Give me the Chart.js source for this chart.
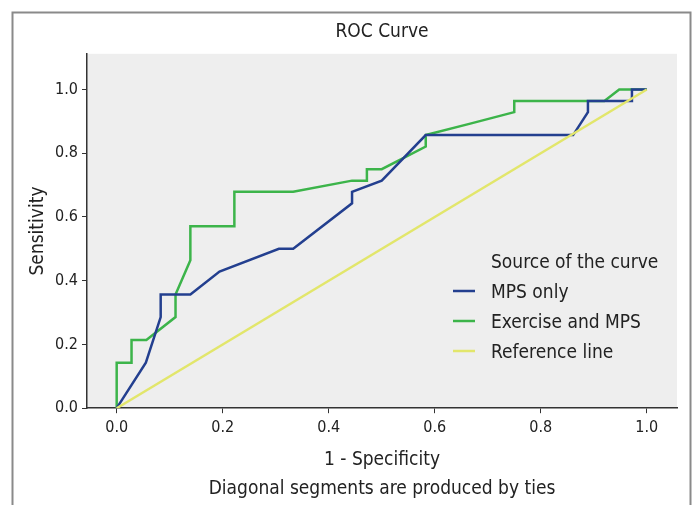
<!DOCTYPE html>
<html lang="en">
<head>
  <meta charset="UTF-8">
  <title>ROC Curve</title>
  <style>
    * {
      margin: 0;
      padding: 0;
      box-sizing: border-box;
    }

    body {
      width: 696px;
      height: 505px;
      background: #ffffff;
      overflow: hidden;
    }
  </style>
</head>
<body>
  <canvas id="roc" width="696" height="505"></canvas>

  <script src="https://cdn.jsdelivr.net/npm/chart.js"></script>
  <script>
    // values (1 - specificity, sensitivity)
    const mpsX = [0, 0.055, 0.083, 0.083, 0.139, 0.194, 0.306, 0.333, 0.444, 0.444, 0.5, 0.583, 0.861, 0.889, 0.889, 0.972, 0.972, 1];
    const mpsY = [0, 0.143, 0.286, 0.357, 0.357, 0.429, 0.5, 0.5, 0.643, 0.679, 0.714, 0.857, 0.857, 0.929, 0.964, 0.964, 1, 1];

    const exX = [0, 0, 0.028, 0.028, 0.056, 0.111, 0.111, 0.139, 0.139, 0.222, 0.222, 0.333, 0.444, 0.472, 0.472, 0.5, 0.583, 0.583, 0.667, 0.75, 0.75, 0.92, 0.948, 1];
    const exY = [0, 0.143, 0.143, 0.214, 0.214, 0.286, 0.357, 0.464, 0.571, 0.571, 0.679, 0.679, 0.714, 0.714, 0.75, 0.75, 0.821, 0.857, 0.893, 0.929, 0.964, 0.964, 1, 1];

    const refX = [0, 1];
    const refY = [0, 1];

    const seriesNames = ['MPS only', 'Exercise and MPS', 'Reference line'];
    const xTicks = [0, 0.2, 0.4, 0.6, 0.8, 1.0];
    const yTicks = [0, 0.2, 0.4, 0.6, 0.8, 1.0];

    const FONT = "'Liberation Sans Narrow', 'DejaVu Sans Condensed', 'Liberation Sans', sans-serif";
    const INK = '#222222';

    const toPoints = (xs, ys) => xs.map((x, i) => ({ x: x, y: ys[i] }));

    // grey plot background + outer frame
    const frame = {
      id: 'frame',
      beforeDraw(chart) {
        const { ctx, chartArea } = chart;
        ctx.save();
        ctx.fillStyle = '#eeeeee';
        ctx.fillRect(chartArea.left, chartArea.top, chartArea.right - chartArea.left, chartArea.bottom - chartArea.top);
        ctx.strokeStyle = '#8a8a8a';
        ctx.lineWidth = 2;
        ctx.strokeRect(12.5, 12.5, 678, 520);
        ctx.restore();
      }
    };

    // legend that sits inside the plot, lower right
    const innerLegend = {
      id: 'innerLegend',
      afterDatasetsDraw(chart) {
        const { ctx } = chart;
        const textX = 491, lineX = 453;
        let y = 263;
        ctx.save();
        ctx.font = '19px ' + FONT;
        ctx.fillStyle = INK;
        ctx.textBaseline = 'middle';
        ctx.fillText('Source of the curve', textX, y);
        chart.data.datasets.forEach(ds => {
          y += 30;
          ctx.strokeStyle = ds.borderColor;
          ctx.lineWidth = 2.5;
          ctx.beginPath();
          ctx.moveTo(lineX, y - 2);
          ctx.lineTo(lineX + 22, y - 2);
          ctx.stroke();
          ctx.fillText(ds.label, textX, y);
        });
        ctx.restore();
      }
    };

    const ctx = document.getElementById('roc');

    const chart = new Chart(ctx, {
      type: 'scatter',
      data: {
        datasets: [{
          label: seriesNames[0],
          data: toPoints(mpsX, mpsY),
          borderColor: '#233f8f',
          order: 1
        }, {
          label: seriesNames[1],
          data: toPoints(exX, exY),
          borderColor: '#3cb44a',
          order: 2
        }, {
          label: seriesNames[2],
          data: toPoints(refX, refY),
          borderColor: '#e2e66b',
          order: 0
        }]
      },
      options: {
        responsive: false,
        animation: false,
        showLine: true,
        elements: {
          point: { radius: 0, hoverRadius: 0 },
          line: { borderWidth: 2.5, tension: 0, fill: false }
        },
        layout: {
          padding: { left: 0, right: 19, top: 0, bottom: 0 }
        },
        scales: {
          x: {
            type: 'linear',
            min: -0.056,
            max: 1.057,
            afterBuildTicks: scale => { scale.ticks = xTicks.map(v => ({ value: v })); },
            ticks: {
              color: INK,
              padding: 5,
              font: { family: FONT, size: 16 },
              callback: v => v.toFixed(1)
            },
            grid: { drawOnChartArea: false, drawTicks: true, tickLength: 5, color: '#333333' },
            border: { display: true, color: '#333333', width: 1.5 },
            title: {
              display: true,
              text: '1 - Specificity',
              color: INK,
              font: { family: FONT, size: 19 },
              padding: { top: 6, bottom: 6 }
            }
          },
          y: {
            type: 'linear',
            min: 0,
            max: 1.112,
            afterBuildTicks: scale => { scale.ticks = yTicks.map(v => ({ value: v })); },
            afterFit: scale => { scale.width = 87; },
            ticks: {
              color: INK,
              padding: 4,
              font: { family: FONT, size: 16 },
              callback: v => v.toFixed(1)
            },
            grid: { drawOnChartArea: false, drawTicks: true, tickLength: 5, color: '#333333' },
            border: { display: true, color: '#333333', width: 1.5 },
            title: {
              display: true,
              text: 'Sensitivity',
              color: INK,
              font: { family: FONT, size: 19 },
              padding: { top: 27, bottom: 0 }
            }
          }
        },
        plugins: {
          legend: { display: false },
          tooltip: { enabled: false },
          title: {
            display: true,
            text: 'ROC Curve',
            fullSize: false,
            color: INK,
            font: { family: FONT, size: 19, weight: 'normal' },
            padding: { top: 21, bottom: 10 }
          },
          subtitle: {
            display: true,
            position: 'bottom',
            fullSize: false,
            text: 'Diagonal segments are produced by ties',
            color: INK,
            font: { family: FONT, size: 19 },
            padding: { top: 0, bottom: 5 }
          }
        }
      },
      plugins: [frame, innerLegend]
    });
  </script>
</body>
</html>
